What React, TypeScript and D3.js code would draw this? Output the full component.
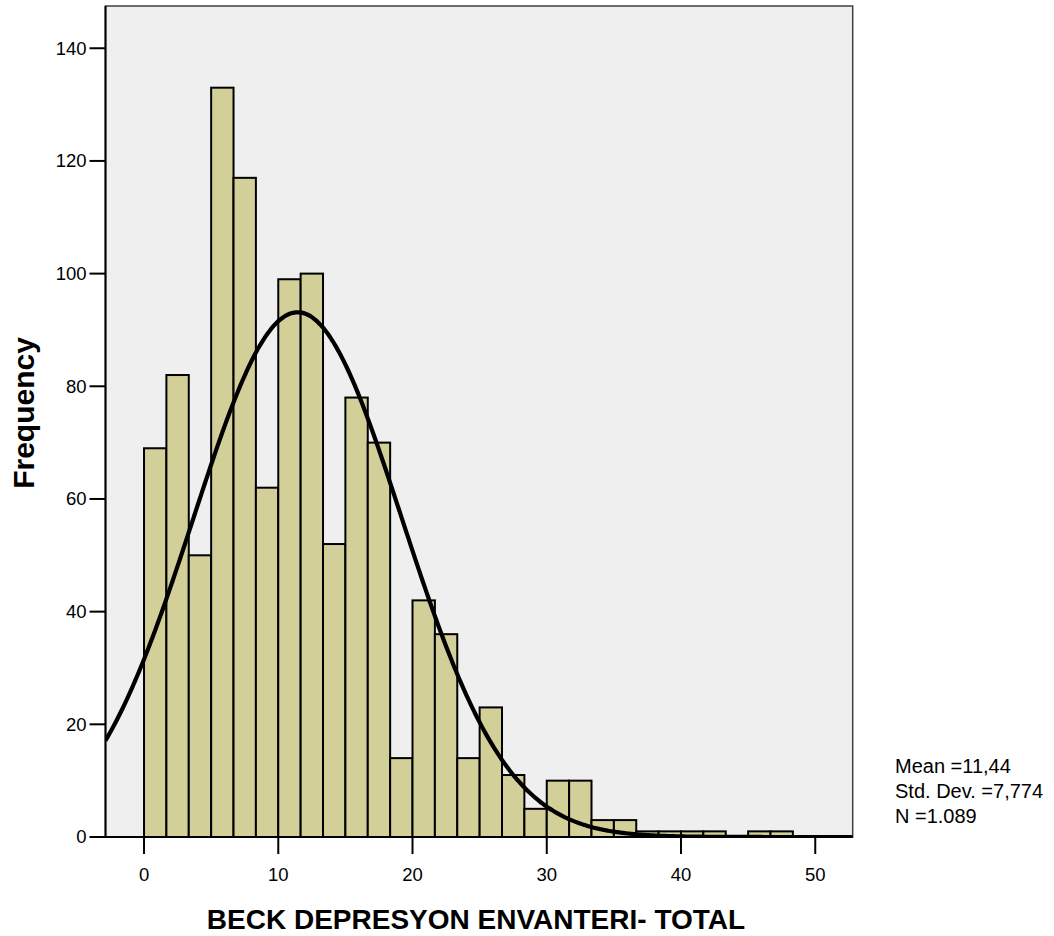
import React from "react";
import * as d3 from "d3";

// ---- data ----
const binStart = 0;
const binWidth = 5 / 3;
const counts = [69, 82, 50, 133, 117, 62, 99, 100, 52, 78, 70, 14, 42, 36, 14, 23, 11, 5, 10, 10, 3, 3, 1, 1, 1, 1, 0, 1, 1, 0];
const xTicks = [0, 10, 20, 30, 40, 50];
const yTicks = [0, 20, 40, 60, 80, 100, 120, 140];
const mean = 11.44;
const stdDev = 7.774;
const nTotal = 1089;
const statLines = ["Mean =11,44", "Std. Dev. =7,774", "N =1.089"];
const xTitle = "BECK DEPRESYON ENVANTERI- TOTAL";
const yTitle = "Frequency";

const W = 1054;
const H = 936;
const L = 105.5, R = 852.7, T = 6, B = 837;
const FONT = "'Liberation Sans', Arial, Helvetica, sans-serif";

export default function App() {
  const x = d3.scaleLinear().domain([-2.87, 52.79]).range([L, R]);
  const y = d3.scaleLinear().domain([0, 147.5]).range([B, T]);

  const bins = counts.map((c, i) => ({ x0: binStart + i * binWidth, x1: binStart + (i + 1) * binWidth, c }));

  const pdf = (v: number) => Math.exp(-0.5 * ((v - mean) / stdDev) ** 2) / (stdDev * Math.sqrt(2 * Math.PI));
  const xs = d3.range(0, 401).map((i) => -2.87 + (i / 400) * (52.79 + 2.87));
  const curve = d3
    .line<number>()
    .x((v) => x(v))
    .y((v) => y(nTotal * binWidth * pdf(v)))
    .curve(d3.curveBasis)(xs);

  return (
    <svg width={W} height={H} style={{ position: "absolute", left: 0, top: 0, background: "#fff" }} fontFamily={FONT}>
      <defs>
        <clipPath id="plotclip">
          <rect x={L} y={T} width={R - L} height={B - T} />
        </clipPath>
      </defs>
      <rect x={L} y={T} width={R - L} height={B - T} fill="#efefef" stroke="#404040" strokeWidth={1.5} />
      <g>
        {bins.filter((b) => b.c > 0).map((b, i) => (
          <rect
            key={i}
            x={x(b.x0)}
            y={y(b.c)}
            width={x(b.x1) - x(b.x0)}
            height={B - y(b.c)}
            fill="#d3cf99"
            stroke="#000"
            strokeWidth={2}
          />
        ))}
      </g>
      <path d={curve || ""} fill="none" stroke="#000" strokeWidth={4.2} clipPath="url(#plotclip)" />
      {/* axes */}
      <line x1={L} x2={L} y1={T} y2={B + 1} stroke="#000" strokeWidth={2} />
      <line x1={L - 1} x2={R} y1={B} y2={B} stroke="#000" strokeWidth={2} />
      {yTicks.map((t) => (
        <g key={t}>
          <line x1={L - 16} x2={L} y1={y(t)} y2={y(t)} stroke="#000" strokeWidth={2} />
          <text x={L - 19} y={y(t)} dy="0.35em" textAnchor="end" fontSize={18.5} fill="#000">
            {t}
          </text>
        </g>
      ))}
      {xTicks.map((t) => (
        <g key={t}>
          <line x1={x(t)} x2={x(t)} y1={B} y2={B + 17} stroke="#000" strokeWidth={2} />
          <text x={x(t)} y={881} textAnchor="middle" fontSize={18.5} fill="#000">
            {t}
          </text>
        </g>
      ))}
      <text x={476} y={929} textAnchor="middle" fontSize={28} fontWeight="bold" fill="#000">
        {xTitle}
      </text>
      <text transform="translate(34,413) rotate(-90)" textAnchor="middle" fontSize={30} fontWeight="bold" fill="#000">
        {yTitle}
      </text>
      {statLines.map((s, i) => (
        <text key={i} x={895} y={773 + i * 25} fontSize={20} fill="#000">
          {s}
        </text>
      ))}
    </svg>
  );
}
